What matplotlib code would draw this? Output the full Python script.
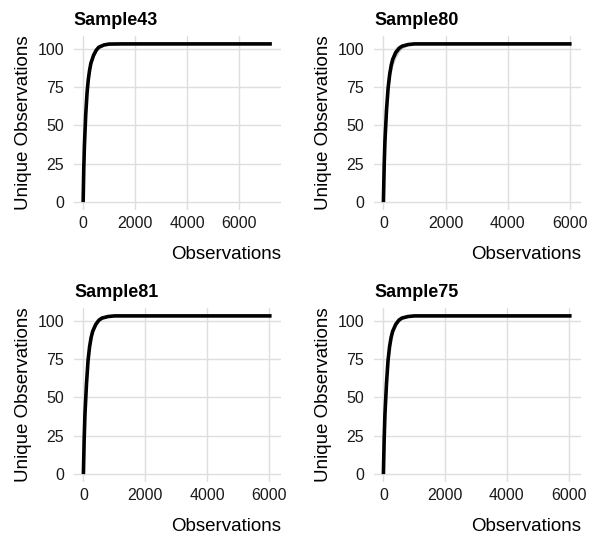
import numpy as np
import matplotlib
matplotlib.use("Agg")
import matplotlib.pyplot as plt

plt.rcParams["font.family"] = ["Liberation Sans", "DejaVu Sans"]

# sample names in panel order
samples = ["Sample43", "Sample80", "Sample81", "Sample75"]

# rarefaction depths (observations) and unique observations
depth_43 = [0, 25, 50, 100, 150, 200, 250, 300, 400, 500, 600, 800, 1000, 1500, 7270]
obs_43 = [0, 22, 37, 57, 71, 80, 86, 90.5, 95.5, 98.8, 100.8, 102.3, 102.9, 103, 103]
spread_43 = [0, 1.5, 2, 2.5, 2.5, 2.5, 2.5, 2.2, 1.8, 1.4, 1.0, 0.6, 0.3, 0.1, 0]

depth_80 = [0, 25, 50, 100, 150, 200, 250, 300, 400, 500, 600, 800, 1000, 1500, 6050]
obs_80 = [0, 24, 40, 60, 74, 83, 89, 93, 97.5, 100, 101.5, 102.6, 103, 103, 103]
spread_80 = [0, 2, 3, 4, 4.5, 5, 5, 4.5, 3.5, 2.5, 1.5, 0.8, 0.4, 0.1, 0]

depth_81 = [0, 25, 50, 100, 150, 200, 250, 300, 400, 500, 600, 800, 1000, 1500, 6080]
obs_81 = [0, 23, 39, 59, 74, 83, 89, 93, 97.5, 100.2, 101.6, 102.6, 103, 103, 103]
spread_81 = [0, 1.5, 2, 2.5, 2.5, 2.5, 2.3, 2, 1.6, 1.2, 0.8, 0.5, 0.2, 0.1, 0]

depth_75 = [0, 25, 50, 100, 150, 200, 250, 300, 400, 500, 600, 800, 1000, 1500, 6100]
obs_75 = [0, 23, 39, 59, 74, 83, 89, 93, 97.5, 100.2, 101.6, 102.6, 103, 103, 103]
spread_75 = [0, 1.5, 2, 2.5, 2.5, 2.5, 2.3, 2, 1.6, 1.2, 0.8, 0.5, 0.2, 0.1, 0]

depths = [depth_43, depth_80, depth_81, depth_75]
observed = [obs_43, obs_80, obs_81, obs_75]
spreads = [spread_43, spread_80, spread_81, spread_75]

x_ticks = [0, 2000, 4000, 6000]
y_ticks = [0, 25, 50, 75, 100]

W, H = 600, 544
fig = plt.figure(figsize=(W / 100, H / 100), dpi=100)

# panel boxes in pixels: left, top, right, bottom
boxes = [(73.7, 36, 281.3, 210), (374, 36, 581, 210),
         (74, 308, 281, 482), (374, 308, 581, 482)]

grid_col = "#dedede"

for i, name in enumerate(samples):
    l, t, r, b = boxes[i]
    ax = fig.add_axes([l / W, 1 - b / H, (r - l) / W, (b - t) / H])
    x = np.array(depths[i])
    y = np.array(observed[i])
    s = np.array(spreads[i])

    ax.fill_between(x, y - s, np.minimum(y + s, 103.3), color="#c8c8c8", lw=0, zorder=2)
    ax.plot(x, y, color="black", lw=2.6, solid_capstyle="butt", zorder=3)

    xmax = x.max()
    ax.set_xlim(-0.05 * xmax, 1.05 * xmax)
    ax.set_ylim(-0.05 * 103, 1.05 * 103)
    ax.set_xticks(x_ticks)
    ax.set_yticks(y_ticks)
    ax.grid(True, color=grid_col, lw=1.0, zorder=0)
    ax.set_axisbelow(True)
    for sp in ax.spines.values():
        sp.set_visible(False)
    ax.tick_params(length=0, labelsize=11.5, colors="#1a1a1a", pad=4)
    ax.tick_params(axis="y", pad=7)

    ax.set_title(name, loc="left", fontsize=13, fontweight="bold", pad=8)
    ax.set_xlabel("Observations", fontsize=13.5, loc="right", labelpad=11)
    ax.set_ylabel("Unique Observations", fontsize=13.5, labelpad=4)

fig.savefig("out.png", dpi=100, facecolor="white")
